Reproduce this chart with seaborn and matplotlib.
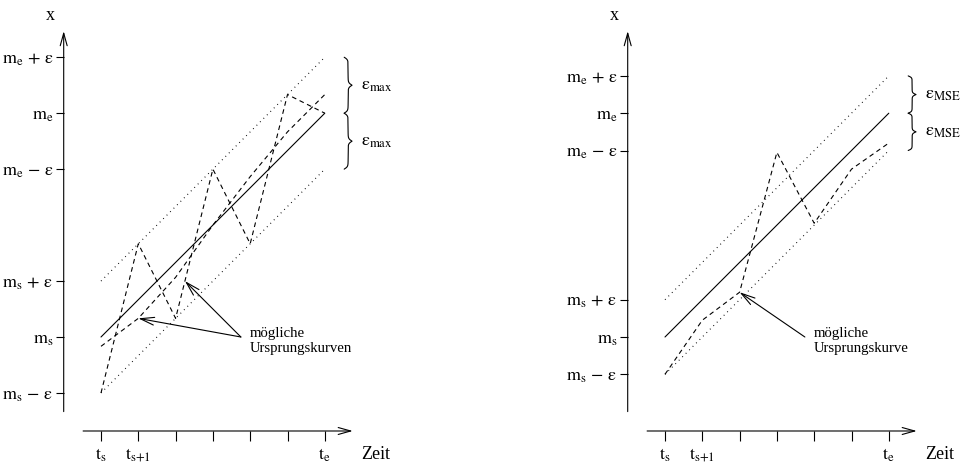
import numpy as np
import matplotlib
matplotlib.use("Agg")
import matplotlib.pyplot as plt
import seaborn as sns

# zeitschritte t_s ... t_e
steps = [0, 1, 2, 3, 4, 5, 6]
time_labels = [r"$\mathrm{t_s}$", r"$\mathrm{t_{s{+}1}}$", "", "", "", "", r"$\mathrm{t_e}$"]

# start- und endwert, fehlerschranken
m_s = 0.0
m_e = 6.0
eps_max = 1.5
eps_mse = 1.0

curve_max_zigzag = [-1.5, 2.5, 0.5, 4.5, 2.5, 6.5, 6.0]
curve_max_flat = [-0.25, 0.5, 1.6, 3.0, 4.3, 5.5, 6.5]
curve_mse = [-1.0, 0.45, 1.2, 4.95, 3.05, 4.5, 5.2]

y_labels = [r"$\mathrm{m_s\,-\,ε}$", r"$\mathrm{m_s}$", r"$\mathrm{m_s\,+\,ε}$",
            r"$\mathrm{m_e\,-\,ε}$", r"$\mathrm{m_e}$", r"$\mathrm{m_e\,+\,ε}$"]

# layout in pixeln
W, H = 960, 466
PX = 37.3          # pixel pro einheit
ORIGIN_Y = 337     # pixelzeile von m_s
LW = 0.8
DOTTED = (0, (0.8, 3.6))
DASHED = (0, (4.2, 3.3))


def draw_brace(ax, x, y0, y1, width):
    """geschweifte klammer, spitze nach rechts"""
    u = np.linspace(0, 0.5, 80)
    beta = 45
    half = 1 / (1 + np.exp(-beta * (u - u[0]))) + 1 / (1 + np.exp(-beta * (u - u[-1])))
    shape = np.concatenate([half, half[-2::-1]]) - 0.5
    ys = np.linspace(y0, y1, shape.size)
    ax.plot(x + width * shape, ys, color="black", lw=LW)


def make_panel(fig, left_px, origin_x, eps, curves, eps_text, note, heads):
    ax = fig.add_axes([left_px / W, 0, 480 / W, 1])
    ax.patch.set_visible(False)

    t_ends = [steps[0], steps[-1]]
    sns.lineplot(x=t_ends, y=[m_s, m_e], ax=ax, color="black", lw=LW)
    sns.lineplot(x=t_ends, y=[m_s + eps, m_e + eps], ax=ax, color="black", lw=LW, linestyle=DOTTED)
    sns.lineplot(x=t_ends, y=[m_s - eps, m_e - eps], ax=ax, color="black", lw=LW, linestyle=DOTTED)
    for c in curves:
        sns.lineplot(x=steps, y=c, ax=ax, color="black", lw=LW, linestyle=DASHED)

    ax.set_xlim((left_px - origin_x) / PX, (left_px + 480 - origin_x) / PX)
    ax.set_ylim((ORIGIN_Y - H) / PX, ORIGIN_Y / PX)

    # achsen
    axis_v = -2.52
    for s in ax.spines.values():
        s.set_visible(False)
    ax.spines["left"].set_position(("data", -1))
    ax.spines["bottom"].set_position(("data", axis_v))
    arrow = dict(arrowstyle="->,head_length=0.9,head_width=0.25", lw=LW, color="black",
                 shrinkA=0, shrinkB=0)
    ax.annotate("", xy=(-1, 8.2), xytext=(-1, -2.0), arrowprops=arrow)
    ax.annotate("", xy=(6.75, axis_v), xytext=(-0.48, axis_v), arrowprops=arrow)

    ax.set_xticks(steps, time_labels)
    y_ticks = [m_s - eps, m_s, m_s + eps, m_e - eps, m_e, m_e + eps]
    ax.set_yticks(y_ticks, y_labels)
    ax.tick_params(axis="y", left=True, direction="out", length=5.8, width=LW, pad=1.5, labelsize=13)
    ax.tick_params(axis="x", bottom=True, direction="out", length=7.2, width=LW, pad=4, labelsize=13)

    ax.text(-1.37, 8.63, "x", ha="center", va="center", fontsize=13)
    ax.text(6.98, -3.16, "Zeit", ha="left", va="center", fontsize=13)

    # klammern mit epsilon
    draw_brace(ax, 6.52, m_e, m_e + eps, 0.21)
    draw_brace(ax, 6.52, m_e - eps, m_e, 0.21)
    ax.text(6.98, m_e + eps / 2, eps_text, ha="left", va="center", fontsize=13)
    ax.text(6.98, m_e - eps / 2, eps_text, ha="left", va="center", fontsize=13)

    # beschriftung mit pfeilen
    ax.text(4.0, -0.1, note, ha="left", va="center", fontsize=10.6, linespacing=1.2)
    pointer = dict(arrowstyle="->,head_length=1.0,head_width=0.28", lw=LW, color="black",
                   shrinkA=0, shrinkB=0)
    for h in heads:
        ax.annotate("", xy=h, xytext=(3.75, 0.0), arrowprops=pointer)
    return ax


sns.set_style("white")
plt.rcParams["font.family"] = ["Liberation Serif", "DejaVu Serif"]
plt.rcParams["mathtext.fontset"] = "stix"
plt.rcParams["text.color"] = "black"
plt.rcParams["xtick.color"] = "black"
plt.rcParams["ytick.color"] = "black"

fig = plt.figure(figsize=(W / 100, H / 100), dpi=100)

make_panel(fig, 0, 101, eps_max, [curve_max_zigzag, curve_max_flat],
           r"$\mathrm{ε_{max}}$", "mögliche\nUrsprungskurven",
           [(steps[1], curve_max_flat[1]), (2.25, np.interp(2.25, steps, curve_max_zigzag))])
make_panel(fig, 480, 665, eps_mse, [curve_mse],
           r"$\mathrm{ε_{MSE}}$", "mögliche\nUrsprungskurve",
           [(steps[2], curve_mse[2])])

fig.savefig("out.png", dpi=100)
